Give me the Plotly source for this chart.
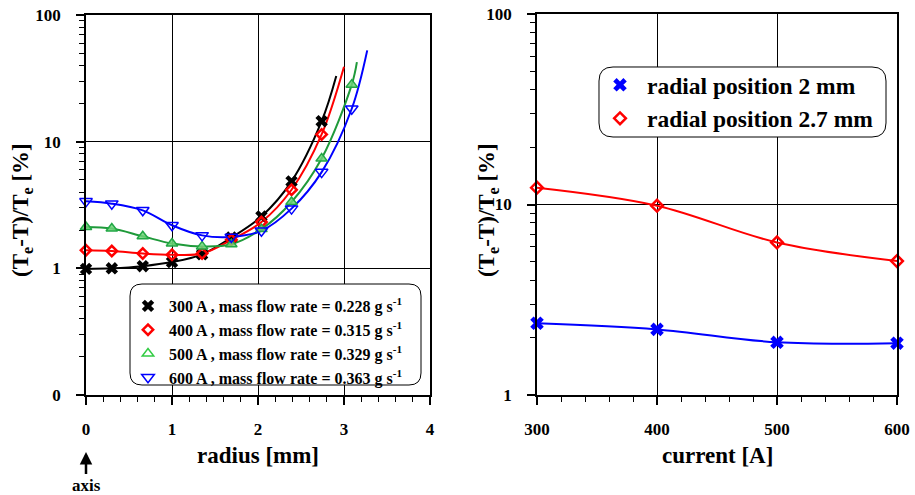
import plotly.graph_objects as go

# ---------------- data ----------------
radius_mm = [0, 0.30, 0.66, 1.00, 1.35, 1.69, 2.04, 2.39, 2.74, 3.09]
dev_300A = [0.99, 1.00, 1.04, 1.12, 1.29, 1.75, 2.57, 4.86, 14.5]
dev_400A = [1.39, 1.37, 1.31, 1.28, 1.31, 1.68, 2.32, 4.17, 11.4]
dev_500A = [2.12, 2.06, 1.79, 1.57, 1.49, 1.55, 2.04, 3.34, 7.35, 28.2]
dev_600A = [3.38, 3.24, 2.87, 2.19, 1.82, 1.77, 1.98, 2.96, 5.75, 18.2]
# end points of the fitted curves (extrapolated beyond the last measurement)
fit_end_radius = [2.91, 3.00, 3.15, 3.27]
fit_end_value = [33.0, 39.0, 42.5, 52.6]
series_labels = [
    "300 A , mass flow rate = 0.228 g s<sup>-1</sup>",
    "400 A , mass flow rate = 0.315 g s<sup>-1</sup>",
    "500 A , mass flow rate = 0.329 g s<sup>-1</sup>",
    "600 A , mass flow rate = 0.363 g s<sup>-1</sup>",
]

current_A = [300, 400, 500, 600]
dev_pos_2mm = [2.38, 2.21, 1.89, 1.87]
dev_pos_27mm = [12.25, 9.86, 6.32, 5.05]
right_labels = ["radial position 2 mm", "radial position 2.7 mm"]

left_y_tickvals = [0.1, 1, 10, 100]
left_y_ticktext = ["0", "1", "10", "100"]
right_y_tickvals = [1, 10, 100]
right_y_ticktext = ["1", "10", "100"]

# ---------------- styling ----------------
W, H = 915, 495
FONT = "Liberation Serif, Times New Roman, serif"

def px_x(p):
    return p / W

def px_y(p):
    return 1 - p / H

def rounded_box(x0, y0, x1, y1, r):
    def P(x, y):
        return f"{px_x(x):.5f},{px_y(y):.5f}"
    path = (f"M {P(x0 + r, y0)} L {P(x1 - r, y0)} Q {P(x1, y0)} {P(x1, y0 + r)} "
            f"L {P(x1, y1 - r)} Q {P(x1, y1)} {P(x1 - r, y1)} "
            f"L {P(x0 + r, y1)} Q {P(x0, y1)} {P(x0, y1 - r)} "
            f"L {P(x0, y0 + r)} Q {P(x0, y0)} {P(x0 + r, y0)} Z")
    return dict(type="path", path=path, xref="paper", yref="paper",
                line=dict(color="black", width=1), fillcolor="white", layer="above")

fig = go.Figure()

colors = ["black", "#ff0000", "#1f9a3a", "#0000ff"]
marker_styles = [
    dict(symbol="x", size=11, color="black", line=dict(width=0)),
    dict(symbol="diamond-open", size=8, color="#ff0000", line=dict(width=2.5)),
    dict(symbol="triangle-up", size=10, color="rgba(110,210,120,0.85)",
         line=dict(width=1.5, color="#22a845")),
    dict(symbol="triangle-down-open", size=11, color="#0000ff", line=dict(width=1.5)),
]
all_series = [dev_300A, dev_400A, dev_500A, dev_600A]

for i, vals in enumerate(all_series):
    xs = radius_mm[:len(vals)]
    fig.add_trace(go.Scatter(
        x=xs + [fit_end_radius[i]], y=vals + [fit_end_value[i]],
        mode="lines", line=dict(color=colors[i], width=2, shape="spline", smoothing=1.0),
        xaxis="x", yaxis="y", showlegend=False, hoverinfo="skip"))
for i, vals in enumerate(all_series):
    xs = radius_mm[:len(vals)]
    fig.add_trace(go.Scatter(
        x=xs, y=vals, mode="markers", marker=marker_styles[i],
        xaxis="x", yaxis="y", cliponaxis=False,
        showlegend=(i != 2), name=series_labels[i], legend="legend",
        legendrank=i))
# open triangle for the green legend entry
fig.add_trace(go.Scatter(
    x=[None], y=[None], mode="markers",
    marker=dict(symbol="triangle-up-open", size=10, color="#33cc44", line=dict(width=1.5)),
    xaxis="x", yaxis="y", name=series_labels[2], legend="legend", legendrank=2))

# right panel
fig.add_trace(go.Scatter(
    x=current_A, y=dev_pos_27mm, mode="lines",
    line=dict(color="#ff0000", width=2, shape="spline", smoothing=1.0),
    xaxis="x2", yaxis="y2", showlegend=False, hoverinfo="skip"))
fig.add_trace(go.Scatter(
    x=current_A, y=dev_pos_2mm, mode="lines",
    line=dict(color="#0000ff", width=2, shape="spline", smoothing=1.0),
    xaxis="x2", yaxis="y2", showlegend=False, hoverinfo="skip"))
fig.add_trace(go.Scatter(
    x=current_A, y=dev_pos_2mm, mode="markers", name=right_labels[0],
    marker=dict(symbol="x", size=12, color="#0000ff", line=dict(width=0)),
    xaxis="x2", yaxis="y2", cliponaxis=False, legend="legend2", legendrank=0))
fig.add_trace(go.Scatter(
    x=current_A, y=dev_pos_27mm, mode="markers", name=right_labels[1],
    marker=dict(symbol="diamond-open", size=9, color="#ff0000", line=dict(width=2.5)),
    xaxis="x2", yaxis="y2", cliponaxis=False, legend="legend2", legendrank=1))

tickfont = dict(family=FONT, size=17, color="black", weight="bold")
common = dict(showline=True, linecolor="black", linewidth=1.5, mirror=True,
              showgrid=True, gridcolor="black", gridwidth=1, zeroline=False,
              ticks="outside", ticklen=8, tickwidth=1.5, tickcolor="black",
              tickfont=tickfont, automargin=False)

left_minor_y = [k * 10 ** e for e in (-1, 0, 1) for k in range(2, 10)]
right_minor_y = [k * 10 ** e for e in (0, 1) for k in range(2, 10)]

title_font = dict(family=FONT, size=23, color="black", weight="bold")

fig.update_layout(
    width=W, height=H,
    margin=dict(l=0, r=0, t=0, b=0, pad=0, autoexpand=False),
    paper_bgcolor="white", plot_bgcolor="white",
    xaxis=dict(domain=[px_x(86), px_x(430)], range=[0, 4], dtick=1, anchor="y",
               ticklabelstandoff=10,
               minor=dict(dtick=0.2, ticks="outside", ticklen=5, tickcolor="black",
                          tickwidth=1.2, showgrid=False), **common),
    yaxis=dict(domain=[1 - 395 / H, 1 - 15 / H], type="log", range=[-1, 2], anchor="x",
               tickmode="array", tickvals=left_y_tickvals, ticktext=left_y_ticktext,
               ticklabelstandoff=12,
               minor=dict(tickmode="array", tickvals=left_minor_y, ticks="outside",
                          ticklen=5, tickcolor="black", tickwidth=1.2, showgrid=False),
               **common),
    xaxis2=dict(domain=[px_x(537), px_x(897)], range=[300, 600], dtick=100, anchor="y2",
                ticklabelstandoff=10,
                minor=dict(dtick=20, ticks="outside", ticklen=5, tickcolor="black",
                           tickwidth=1.2, showgrid=False), **common),
    yaxis2=dict(domain=[1 - 395 / H, 1 - 14 / H], type="log", range=[0, 2], anchor="x2",
                tickmode="array", tickvals=right_y_tickvals, ticktext=right_y_ticktext,
                ticklabelstandoff=12,
                minor=dict(tickmode="array", tickvals=right_minor_y, ticks="outside",
                           ticklen=5, tickcolor="black", tickwidth=1.2, showgrid=False),
                **common),
    legend=dict(x=px_x(127), y=px_y(289), xanchor="left", yanchor="top",
                bgcolor="rgba(0,0,0,0)", borderwidth=0, tracegroupgap=0, itemwidth=32,
                font=dict(family=FONT, size=16, color="black", weight="bold")),
    legend2=dict(x=px_x(593), y=px_y(63), xanchor="left", yanchor="top",
                 bgcolor="rgba(0,0,0,0)", borderwidth=0, itemwidth=44,
                 font=dict(family=FONT, size=23.5, color="black", weight="bold")),
    shapes=[rounded_box(130, 284, 421, 385, 12), rounded_box(599, 67, 886, 137, 14)],
    annotations=[
        dict(text="radius [mm]", x=px_x(258), y=px_y(455), xref="paper", yref="paper",
             xanchor="center", yanchor="middle", showarrow=False, font=title_font),
        dict(text="current [A]", x=px_x(717), y=px_y(455), xref="paper", yref="paper",
             xanchor="center", yanchor="middle", showarrow=False, font=title_font),
        dict(text="(T<sub>e</sub>-T)/T<sub>e</sub> [%]", x=px_x(22), y=px_y(210),
             xref="paper", yref="paper", xanchor="center", yanchor="middle",
             textangle=-90, showarrow=False, font=title_font),
        dict(text="(T<sub>e</sub>-T)/T<sub>e</sub> [%]", x=px_x(488), y=px_y(210),
             xref="paper", yref="paper", xanchor="center", yanchor="middle",
             textangle=-90, showarrow=False, font=title_font),
        dict(text="axis", x=0, y=px_y(452), xref="x", yref="paper",
             showarrow=True, ax=0, ay=33, arrowhead=2, arrowsize=1, arrowwidth=2.5,
             arrowcolor="black",
             font=dict(family=FONT, size=17, color="black", weight="bold")),
    ],
)

fig.write_html("out.html")
